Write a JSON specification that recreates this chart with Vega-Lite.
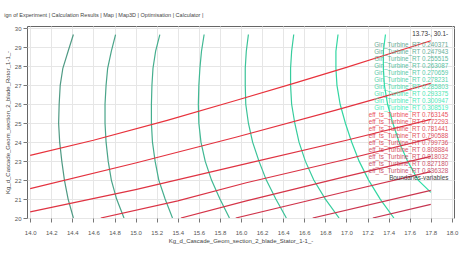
{
  "$schema": "https://vega.github.io/schema/vega-lite/v6.json",
  "width": 476,
  "height": 258,
  "autosize": {"type": "fit", "contains": "padding"},
  "padding": {"left": 4, "top": 13, "right": 18, "bottom": 15},
  "background": "white",
  "title": {
    "text": "ign of Experiment | Calculation Results | Map | Map3D | Optimisation | Calculator |",
    "anchor": "start",
    "frame": "bounds",
    "fontSize": 5.5,
    "font": "Liberation Sans",
    "fontWeight": "normal",
    "color": "#444",
    "offset": 7,
    "dx": 0
  },
  "config": {
    "view": {"stroke": "#666", "strokeWidth": 1},
    "axis": {
      "labelFont": "Liberation Sans",
      "labelFontSize": 6,
      "labelColor": "#555",
      "titleFont": "Liberation Sans",
      "titleFontSize": 6,
      "titleFontWeight": "normal",
      "titleColor": "#444",
      "tickColor": "#777",
      "tickSize": 4,
      "domain": false,
      "gridColor": "#e6e6e6",
      "labelFlush": false
    }
  },
  "data": {
    "values": [
      {"s": "Gin_Turbine_RT 0.240371", "o": 0, "x": 14.41, "y": 29.68},
      {"s": "Gin_Turbine_RT 0.240371", "o": 1, "x": 14.36, "y": 28.8},
      {"s": "Gin_Turbine_RT 0.240371", "o": 2, "x": 14.31, "y": 27.9},
      {"s": "Gin_Turbine_RT 0.240371", "o": 3, "x": 14.285, "y": 27.0},
      {"s": "Gin_Turbine_RT 0.240371", "o": 4, "x": 14.275, "y": 26.0},
      {"s": "Gin_Turbine_RT 0.240371", "o": 5, "x": 14.27, "y": 25.0},
      {"s": "Gin_Turbine_RT 0.240371", "o": 6, "x": 14.28, "y": 24.0},
      {"s": "Gin_Turbine_RT 0.240371", "o": 7, "x": 14.30, "y": 23.0},
      {"s": "Gin_Turbine_RT 0.240371", "o": 8, "x": 14.325, "y": 22.0},
      {"s": "Gin_Turbine_RT 0.240371", "o": 9, "x": 14.36, "y": 21.0},
      {"s": "Gin_Turbine_RT 0.240371", "o": 10, "x": 14.41, "y": 20.0},

      {"s": "Gin_Turbine_RT 0.247943", "o": 0, "x": 14.81, "y": 29.68},
      {"s": "Gin_Turbine_RT 0.247943", "o": 1, "x": 14.77, "y": 28.8},
      {"s": "Gin_Turbine_RT 0.247943", "o": 2, "x": 14.735, "y": 27.9},
      {"s": "Gin_Turbine_RT 0.247943", "o": 3, "x": 14.72, "y": 27.0},
      {"s": "Gin_Turbine_RT 0.247943", "o": 4, "x": 14.71, "y": 26.0},
      {"s": "Gin_Turbine_RT 0.247943", "o": 5, "x": 14.71, "y": 25.0},
      {"s": "Gin_Turbine_RT 0.247943", "o": 6, "x": 14.72, "y": 24.0},
      {"s": "Gin_Turbine_RT 0.247943", "o": 7, "x": 14.74, "y": 23.0},
      {"s": "Gin_Turbine_RT 0.247943", "o": 8, "x": 14.77, "y": 22.0},
      {"s": "Gin_Turbine_RT 0.247943", "o": 9, "x": 14.82, "y": 21.0},
      {"s": "Gin_Turbine_RT 0.247943", "o": 10, "x": 14.89, "y": 20.0},

      {"s": "Gin_Turbine_RT 0.255515", "o": 0, "x": 15.23, "y": 29.68},
      {"s": "Gin_Turbine_RT 0.255515", "o": 1, "x": 15.19, "y": 28.8},
      {"s": "Gin_Turbine_RT 0.255515", "o": 2, "x": 15.165, "y": 27.9},
      {"s": "Gin_Turbine_RT 0.255515", "o": 3, "x": 15.155, "y": 27.0},
      {"s": "Gin_Turbine_RT 0.255515", "o": 4, "x": 15.15, "y": 26.0},
      {"s": "Gin_Turbine_RT 0.255515", "o": 5, "x": 15.15, "y": 25.0},
      {"s": "Gin_Turbine_RT 0.255515", "o": 6, "x": 15.16, "y": 24.0},
      {"s": "Gin_Turbine_RT 0.255515", "o": 7, "x": 15.185, "y": 23.0},
      {"s": "Gin_Turbine_RT 0.255515", "o": 8, "x": 15.22, "y": 22.0},
      {"s": "Gin_Turbine_RT 0.255515", "o": 9, "x": 15.28, "y": 21.0},
      {"s": "Gin_Turbine_RT 0.255515", "o": 10, "x": 15.35, "y": 20.0},

      {"s": "Gin_Turbine_RT 0.263087", "o": 0, "x": 15.65, "y": 29.68},
      {"s": "Gin_Turbine_RT 0.263087", "o": 1, "x": 15.625, "y": 28.8},
      {"s": "Gin_Turbine_RT 0.263087", "o": 2, "x": 15.61, "y": 27.9},
      {"s": "Gin_Turbine_RT 0.263087", "o": 3, "x": 15.60, "y": 27.0},
      {"s": "Gin_Turbine_RT 0.263087", "o": 4, "x": 15.595, "y": 26.0},
      {"s": "Gin_Turbine_RT 0.263087", "o": 5, "x": 15.60, "y": 25.0},
      {"s": "Gin_Turbine_RT 0.263087", "o": 6, "x": 15.62, "y": 24.0},
      {"s": "Gin_Turbine_RT 0.263087", "o": 7, "x": 15.66, "y": 23.0},
      {"s": "Gin_Turbine_RT 0.263087", "o": 8, "x": 15.72, "y": 22.0},
      {"s": "Gin_Turbine_RT 0.263087", "o": 9, "x": 15.80, "y": 21.0},
      {"s": "Gin_Turbine_RT 0.263087", "o": 10, "x": 15.89, "y": 20.0},

      {"s": "Gin_Turbine_RT 0.270659", "o": 0, "x": 16.07, "y": 29.68},
      {"s": "Gin_Turbine_RT 0.270659", "o": 1, "x": 16.05, "y": 28.8},
      {"s": "Gin_Turbine_RT 0.270659", "o": 2, "x": 16.04, "y": 27.9},
      {"s": "Gin_Turbine_RT 0.270659", "o": 3, "x": 16.04, "y": 27.0},
      {"s": "Gin_Turbine_RT 0.270659", "o": 4, "x": 16.045, "y": 26.0},
      {"s": "Gin_Turbine_RT 0.270659", "o": 5, "x": 16.07, "y": 25.0},
      {"s": "Gin_Turbine_RT 0.270659", "o": 6, "x": 16.11, "y": 24.0},
      {"s": "Gin_Turbine_RT 0.270659", "o": 7, "x": 16.17, "y": 23.0},
      {"s": "Gin_Turbine_RT 0.270659", "o": 8, "x": 16.24, "y": 22.0},
      {"s": "Gin_Turbine_RT 0.270659", "o": 9, "x": 16.33, "y": 21.0},
      {"s": "Gin_Turbine_RT 0.270659", "o": 10, "x": 16.43, "y": 20.0},

      {"s": "Gin_Turbine_RT 0.278231", "o": 0, "x": 16.50, "y": 29.68},
      {"s": "Gin_Turbine_RT 0.278231", "o": 1, "x": 16.48, "y": 28.8},
      {"s": "Gin_Turbine_RT 0.278231", "o": 2, "x": 16.47, "y": 27.9},
      {"s": "Gin_Turbine_RT 0.278231", "o": 3, "x": 16.47, "y": 27.0},
      {"s": "Gin_Turbine_RT 0.278231", "o": 4, "x": 16.48, "y": 26.0},
      {"s": "Gin_Turbine_RT 0.278231", "o": 5, "x": 16.51, "y": 25.0},
      {"s": "Gin_Turbine_RT 0.278231", "o": 6, "x": 16.55, "y": 24.0},
      {"s": "Gin_Turbine_RT 0.278231", "o": 7, "x": 16.61, "y": 23.0},
      {"s": "Gin_Turbine_RT 0.278231", "o": 8, "x": 16.69, "y": 22.0},
      {"s": "Gin_Turbine_RT 0.278231", "o": 9, "x": 16.80, "y": 21.0},
      {"s": "Gin_Turbine_RT 0.278231", "o": 10, "x": 16.93, "y": 20.0},

      {"s": "Gin_Turbine_RT 0.285803", "o": 0, "x": 16.92, "y": 29.68},
      {"s": "Gin_Turbine_RT 0.285803", "o": 1, "x": 16.90, "y": 28.8},
      {"s": "Gin_Turbine_RT 0.285803", "o": 2, "x": 16.90, "y": 27.9},
      {"s": "Gin_Turbine_RT 0.285803", "o": 3, "x": 16.91, "y": 27.0},
      {"s": "Gin_Turbine_RT 0.285803", "o": 4, "x": 16.94, "y": 26.0},
      {"s": "Gin_Turbine_RT 0.285803", "o": 5, "x": 16.99, "y": 25.0},
      {"s": "Gin_Turbine_RT 0.285803", "o": 6, "x": 17.05, "y": 24.0},
      {"s": "Gin_Turbine_RT 0.285803", "o": 7, "x": 17.12, "y": 23.0},
      {"s": "Gin_Turbine_RT 0.285803", "o": 8, "x": 17.21, "y": 22.0},
      {"s": "Gin_Turbine_RT 0.285803", "o": 9, "x": 17.32, "y": 21.0},
      {"s": "Gin_Turbine_RT 0.285803", "o": 10, "x": 17.45, "y": 20.0},

      {"s": "Gin_Turbine_RT 0.293375", "o": 0, "x": 17.37, "y": 29.68},
      {"s": "Gin_Turbine_RT 0.293375", "o": 1, "x": 17.35, "y": 28.8},
      {"s": "Gin_Turbine_RT 0.293375", "o": 2, "x": 17.35, "y": 27.9},
      {"s": "Gin_Turbine_RT 0.293375", "o": 3, "x": 17.36, "y": 27.0},
      {"s": "Gin_Turbine_RT 0.293375", "o": 4, "x": 17.39, "y": 26.0},
      {"s": "Gin_Turbine_RT 0.293375", "o": 5, "x": 17.44, "y": 25.0},
      {"s": "Gin_Turbine_RT 0.293375", "o": 6, "x": 17.50, "y": 24.0},
      {"s": "Gin_Turbine_RT 0.293375", "o": 7, "x": 17.58, "y": 23.0},
      {"s": "Gin_Turbine_RT 0.293375", "o": 8, "x": 17.68, "y": 22.0},
      {"s": "Gin_Turbine_RT 0.293375", "o": 9, "x": 17.80, "y": 21.35},

      {"s": "eff_ts_Turbine_RT 0.763145", "o": 0, "x": 14.0, "y": 23.3},
      {"s": "eff_ts_Turbine_RT 0.763145", "o": 1, "x": 14.6, "y": 24.1},
      {"s": "eff_ts_Turbine_RT 0.763145", "o": 2, "x": 15.3, "y": 25.15},
      {"s": "eff_ts_Turbine_RT 0.763145", "o": 3, "x": 15.95, "y": 26.2},
      {"s": "eff_ts_Turbine_RT 0.763145", "o": 4, "x": 16.5, "y": 27.1},
      {"s": "eff_ts_Turbine_RT 0.763145", "o": 5, "x": 17.0, "y": 27.95},
      {"s": "eff_ts_Turbine_RT 0.763145", "o": 6, "x": 17.4, "y": 28.65},
      {"s": "eff_ts_Turbine_RT 0.763145", "o": 7, "x": 17.8, "y": 29.35},

      {"s": "eff_ts_Turbine_RT 0.772293", "o": 0, "x": 14.0, "y": 21.55},
      {"s": "eff_ts_Turbine_RT 0.772293", "o": 1, "x": 15.0, "y": 22.9},
      {"s": "eff_ts_Turbine_RT 0.772293", "o": 2, "x": 15.95, "y": 24.26},
      {"s": "eff_ts_Turbine_RT 0.772293", "o": 3, "x": 16.9, "y": 25.69},
      {"s": "eff_ts_Turbine_RT 0.772293", "o": 4, "x": 17.8, "y": 27.1},

      {"s": "eff_ts_Turbine_RT 0.781441", "o": 0, "x": 14.0, "y": 20.32},
      {"s": "eff_ts_Turbine_RT 0.781441", "o": 1, "x": 15.0, "y": 21.5},
      {"s": "eff_ts_Turbine_RT 0.781441", "o": 2, "x": 16.05, "y": 22.87},
      {"s": "eff_ts_Turbine_RT 0.781441", "o": 3, "x": 17.0, "y": 24.1},
      {"s": "eff_ts_Turbine_RT 0.781441", "o": 4, "x": 17.8, "y": 25.2},

      {"s": "eff_ts_Turbine_RT 0.790588", "o": 0, "x": 14.67, "y": 20.0},
      {"s": "eff_ts_Turbine_RT 0.790588", "o": 1, "x": 15.4, "y": 20.9},
      {"s": "eff_ts_Turbine_RT 0.790588", "o": 2, "x": 16.05, "y": 21.86},
      {"s": "eff_ts_Turbine_RT 0.790588", "o": 3, "x": 17.0, "y": 23.1},
      {"s": "eff_ts_Turbine_RT 0.790588", "o": 4, "x": 17.8, "y": 24.2},

      {"s": "eff_ts_Turbine_RT 0.799736", "o": 0, "x": 15.43, "y": 20.0},
      {"s": "eff_ts_Turbine_RT 0.799736", "o": 1, "x": 16.05, "y": 20.9},
      {"s": "eff_ts_Turbine_RT 0.799736", "o": 2, "x": 17.0, "y": 22.2},
      {"s": "eff_ts_Turbine_RT 0.799736", "o": 3, "x": 17.8, "y": 23.25},

      {"s": "eff_ts_Turbine_RT 0.808884", "o": 0, "x": 15.95, "y": 20.0},
      {"s": "eff_ts_Turbine_RT 0.808884", "o": 1, "x": 17.0, "y": 21.4},
      {"s": "eff_ts_Turbine_RT 0.808884", "o": 2, "x": 17.8, "y": 22.45},

      {"s": "eff_ts_Turbine_RT 0.818032", "o": 0, "x": 16.68, "y": 20.0},
      {"s": "eff_ts_Turbine_RT 0.818032", "o": 1, "x": 17.8, "y": 21.46},

      {"s": "eff_ts_Turbine_RT 0.827180", "o": 0, "x": 17.25, "y": 20.0},
      {"s": "eff_ts_Turbine_RT 0.827180", "o": 1, "x": 17.8, "y": 20.72}
    ]
  },
  "mark": {"type": "line", "strokeWidth": 1.2, "clip": true},
  "encoding": {
    "x": {
      "field": "x",
      "type": "quantitative",
      "scale": {"domain": [13.97, 18.02], "nice": false, "zero": false},
      "axis": {
        "title": "Kg_d_Cascade_Geom_section_2_blade_Stator_1-1_-",
        "values": [14.0, 14.2, 14.4, 14.6, 14.8, 15.0, 15.2, 15.4, 15.6, 15.8, 16.0, 16.2, 16.4, 16.6, 16.8, 17.0, 17.2, 17.4, 17.6, 17.8, 18.0],
        "format": ".1f",
        "labelPadding": 7,
        "titlePadding": 2
      }
    },
    "y": {
      "field": "y",
      "type": "quantitative",
      "scale": {"domain": [20, 30.13], "nice": false, "zero": false},
      "axis": {
        "title": "Kg_d_Cascade_Geom_section_2_blade_Rotor_1-1_-",
        "values": [20, 21, 22, 23, 24, 25, 26, 27, 28, 29, 30],
        "format": "d",
        "labelPadding": 2,
        "titlePadding": 4
      }
    },
    "order": {"field": "o", "type": "quantitative"},
    "color": {
      "field": "s",
      "type": "nominal",
      "scale": {
        "domain": [
          "Gin_Turbine_RT 0.240371", "Gin_Turbine_RT 0.247943", "Gin_Turbine_RT 0.255515", "Gin_Turbine_RT 0.263087", "Gin_Turbine_RT 0.270659",
          "Gin_Turbine_RT 0.278231", "Gin_Turbine_RT 0.285803", "Gin_Turbine_RT 0.293375", "Gin_Turbine_RT 0.300947", "Gin_Turbine_RT 0.308519",
          "eff_ts_Turbine_RT 0.763145", "eff_ts_Turbine_RT 0.772293", "eff_ts_Turbine_RT 0.781441", "eff_ts_Turbine_RT 0.790588", "eff_ts_Turbine_RT 0.799736",
          "eff_ts_Turbine_RT 0.808884", "eff_ts_Turbine_RT 0.818032", "eff_ts_Turbine_RT 0.827180", "eff_ts_Turbine_RT 0.836328",
          "Boundaries-variables"
        ],
        "range": [
          "#4f9a84", "#4aa489", "#45ae8e", "#40b893", "#3bc298", "#37cc9d", "#33d6a2", "#2fdfa8", "#2be6ae", "#27ecb4",
          "#e8323c", "#e4323f", "#df3342", "#da3345", "#d53448", "#d0344b", "#cb354e", "#c63551", "#c13654",
          "#222222"
        ]
      },
      "legend": {
        "orient": "top-right",
        "offset": 5,
        "padding": 0,
        "title": "13.73-, 30.1-",
        "titleFont": "Liberation Sans",
        "titleFontSize": 6.3,
        "titleFontWeight": "normal",
        "titleColor": "#333",
        "titleAnchor": "end",
        "titlePadding": 5,
        "labelFont": "Liberation Sans",
        "labelFontSize": 6.3,
        "labelLimit": 0,
        "labelAlign": "right",
        "labelOffset": 0,
        "rowPadding": 0,
        "symbolSize": 0,
        "symbolStrokeWidth": 0,
        "symbolOpacity": 0,
        "encode": {
          "labels": {"update": {"fill": {"scale": "color", "field": "value"}, "opacity": {"value": 0.85}}}
        }
      }
    }
  }
}
